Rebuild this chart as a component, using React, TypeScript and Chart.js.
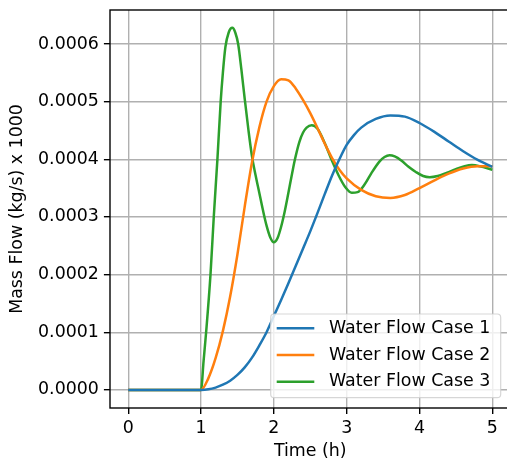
import React, { useEffect, useRef } from 'react';
import { Chart, registerables } from 'chart.js';

Chart.register(...registerables);

// ---- data (time in h, mass flow in kg/s x 1000) ----
const seriesLabels = ['Water Flow Case 1', 'Water Flow Case 2', 'Water Flow Case 3'];
const seriesColors = ['#1f77b4', '#ff7f0e', '#2ca02c'];

const case1Times = [0, 1, 1.1, 1.2, 1.3, 1.4, 1.5, 1.6, 1.7, 1.8, 1.9, 2.0, 2.1, 2.2, 2.3, 2.4, 2.5, 2.6, 2.7, 2.8, 2.9, 3.0, 3.1, 3.2, 3.4, 3.6, 3.8, 4.0, 4.2, 4.4, 4.6, 4.8, 5.0];
const case1Flow = [0, 0, 0.01e-4, 0.04e-4, 0.09e-4, 0.16e-4, 0.26e-4, 0.39e-4, 0.56e-4, 0.77e-4, 1.0e-4, 1.28e-4, 1.56e-4, 1.85e-4, 2.15e-4, 2.45e-4, 2.75e-4, 3.07e-4, 3.4e-4, 3.72e-4, 4.0e-4, 4.25e-4, 4.42e-4, 4.55e-4, 4.70e-4, 4.76e-4, 4.74e-4, 4.63e-4, 4.48e-4, 4.31e-4, 4.14e-4, 3.99e-4, 3.87e-4];

const case2Times = [0, 1, 1.1, 1.2, 1.3, 1.4, 1.5, 1.6, 1.7, 1.8, 1.9, 2.0, 2.1, 2.2, 2.3, 2.4, 2.5, 2.6, 2.7, 2.8, 2.9, 3.0, 3.2, 3.4, 3.6, 3.8, 4.0, 4.2, 4.4, 4.6, 4.8, 5.0];
const case2Flow = [0, 0, 0.2e-4, 0.55e-4, 1.02e-4, 1.62e-4, 2.35e-4, 3.18e-4, 3.95e-4, 4.55e-4, 5.0e-4, 5.27e-4, 5.39e-4, 5.37e-4, 5.23e-4, 5.03e-4, 4.8e-4, 4.54e-4, 4.27e-4, 4.02e-4, 3.82e-4, 3.67e-4, 3.47e-4, 3.36e-4, 3.33e-4, 3.38e-4, 3.5e-4, 3.63e-4, 3.75e-4, 3.84e-4, 3.88e-4, 3.88e-4];

const case3Times = [0, 1, 1.035, 1.07, 1.13, 1.175, 1.225, 1.27, 1.3, 1.335, 1.38, 1.43, 1.47, 1.51, 1.555, 1.6, 1.65, 1.7, 1.75, 1.8, 1.85, 1.9, 1.95, 2.0, 2.05, 2.1, 2.15, 2.2, 2.25, 2.29, 2.35, 2.4, 2.45, 2.52, 2.6, 2.7, 2.79, 2.89, 2.98, 3.07, 3.15, 3.25, 3.34, 3.45, 3.52, 3.59, 3.66, 3.75, 3.85, 3.95, 4.05, 4.14, 4.25, 4.38, 4.5, 4.62, 4.72, 4.83, 5.0];
const case3Flow = [0, 0, 0.5e-4, 1.0e-4, 2.0e-4, 3.0e-4, 4.0e-4, 5.0e-4, 5.5e-4, 5.95e-4, 6.2e-4, 6.28e-4, 6.2e-4, 6.0e-4, 5.55e-4, 5.05e-4, 4.52e-4, 4.05e-4, 3.72e-4, 3.42e-4, 3.12e-4, 2.85e-4, 2.65e-4, 2.56e-4, 2.63e-4, 2.83e-4, 3.1e-4, 3.42e-4, 3.75e-4, 4.0e-4, 4.3e-4, 4.46e-4, 4.55e-4, 4.59e-4, 4.53e-4, 4.28e-4, 4.0e-4, 3.72e-4, 3.52e-4, 3.42e-4, 3.43e-4, 3.57e-4, 3.76e-4, 3.96e-4, 4.04e-4, 4.07e-4, 4.05e-4, 3.98e-4, 3.87e-4, 3.78e-4, 3.71e-4, 3.69e-4, 3.71e-4, 3.77e-4, 3.83e-4, 3.88e-4, 3.9e-4, 3.88e-4, 3.82e-4];

const xTicks = [0, 1, 2, 3, 4, 5];
const yTicks = [0, 0.0001, 0.0002, 0.0003, 0.0004, 0.0005, 0.0006];

const seriesTimes = [case1Times, case2Times, case3Times];
const seriesFlows = [case1Flow, case2Flow, case3Flow];

// ---- layout ----
const W = 515;
const H = 462;
const AREA_LEFT = 110;
const AREA_TOP = 10;
const AREA_RIGHT = 510.5;
const AREA_BOTTOM = 408;
const FS = 17.4;
const FONT = "'DejaVu Sans', sans-serif";
const LW = 1.39;

const framePlugin = {
  id: 'mplFrame',
  afterDatasetsDraw(chart: any) {
    const { ctx, chartArea } = chart;
    ctx.save();
    ctx.strokeStyle = '#000';
    ctx.lineWidth = LW;
    ctx.strokeRect(chartArea.left, chartArea.top, chartArea.right - chartArea.left, chartArea.bottom - chartArea.top);
    ctx.restore();
  },
};

const legendPlugin = {
  id: 'mplLegend',
  afterDraw(chart: any) {
    const { ctx } = chart;
    const bx = 270.7, by = 314, bw = 230, bh = 83.7, r = 3.5;
    ctx.save();
    ctx.beginPath();
    ctx.moveTo(bx + r, by);
    ctx.lineTo(bx + bw - r, by);
    ctx.arcTo(bx + bw, by, bx + bw, by + r, r);
    ctx.lineTo(bx + bw, by + bh - r);
    ctx.arcTo(bx + bw, by + bh, bx + bw - r, by + bh, r);
    ctx.lineTo(bx + r, by + bh);
    ctx.arcTo(bx, by + bh, bx, by + bh - r, r);
    ctx.lineTo(bx, by + r);
    ctx.arcTo(bx, by, bx + r, by, r);
    ctx.closePath();
    ctx.fillStyle = 'rgba(255,255,255,0.8)';
    ctx.fill();
    ctx.strokeStyle = 'rgba(204,204,204,0.8)';
    ctx.lineWidth = 1.2;
    ctx.stroke();
    chart.data.datasets.forEach((ds: any, i: number) => {
      const y = 328.3 + i * 26.7;
      ctx.beginPath();
      ctx.moveTo(276.7, y);
      ctx.lineTo(314.3, y);
      ctx.strokeStyle = ds.borderColor;
      ctx.lineWidth = 2.5;
      ctx.stroke();
      ctx.fillStyle = '#000';
      ctx.font = `${FS}px ${FONT}`;
      ctx.textAlign = 'left';
      ctx.textBaseline = 'middle';
      ctx.fillText(ds.label, 329, y);
    });
    ctx.restore();
  },
};

export default function App() {
  const canvasRef = useRef<HTMLCanvasElement | null>(null);

  useEffect(() => {
    const canvas = canvasRef.current;
    if (!canvas) return;
    const datasets = seriesLabels.map((label, i) => ({
      label,
      data: seriesTimes[i].map((t, j) => ({ x: t, y: seriesFlows[i][j] })),
      borderColor: seriesColors[i],
      backgroundColor: seriesColors[i],
      borderWidth: 2.5,
      pointRadius: 0,
      fill: false,
      cubicInterpolationMode: 'monotone' as const,
      borderJoinStyle: 'round' as const,
    }));

    const chart = new Chart(canvas, {
      type: 'line',
      data: { datasets },
      plugins: [framePlugin, legendPlugin],
      options: {
        animation: false,
        responsive: false,
        devicePixelRatio: 1,
        layout: { padding: { left: 0, top: AREA_TOP, right: W - AREA_RIGHT, bottom: 0 } },
        plugins: { legend: { display: false }, tooltip: { enabled: false } },
        scales: {
          x: {
            type: 'linear',
            min: -0.25,
            max: 5.25,
            afterBuildTicks: (s: any) => { s.ticks = xTicks.map((v) => ({ value: v })); },
            afterFit: (s: any) => { s.height = H - AREA_BOTTOM; s.paddingLeft = 0; s.paddingRight = 0; },
            ticks: {
              color: '#000',
              font: { size: FS, family: FONT },
              padding: 3.5,
              maxRotation: 0,
              autoSkip: false,
              callback: (v: any) => String(v),
            },
            grid: { color: '#b0b0b0', lineWidth: LW, tickColor: '#000', tickLength: 6.1, tickWidth: LW },
            border: { display: false },
            title: { display: true, text: 'Time (h)', color: '#000', font: { size: FS, family: FONT }, padding: 0 },
          },
          y: {
            type: 'linear',
            min: -0.0000314,
            max: 0.000659,
            afterBuildTicks: (s: any) => { s.ticks = yTicks.map((v) => ({ value: v })); },
            afterFit: (s: any) => { s.width = AREA_LEFT; s.paddingTop = 0; s.paddingBottom = 0; },
            ticks: {
              color: '#000',
              font: { size: FS, family: FONT },
              padding: 5,
              autoSkip: false,
              callback: (v: any) => Number(v).toFixed(4),
            },
            grid: { color: '#b0b0b0', lineWidth: LW, tickColor: '#000', tickLength: 6.1, tickWidth: LW },
            border: { display: false },
            title: { display: true, text: 'Mass Flow (kg/s) x 1000', color: '#000', font: { size: FS, family: FONT }, padding: { top: 6.8, bottom: 0 } },
          },
        },
      },
    });
    return () => chart.destroy();
  }, []);

  return (
    <div style={{ position: 'fixed', left: 0, top: 0, width: 507, height: 462, overflow: 'hidden', background: '#fff' }}>
      <canvas ref={canvasRef} width={W} height={H} style={{ display: 'block', width: W, height: H }} />
    </div>
  );
}
